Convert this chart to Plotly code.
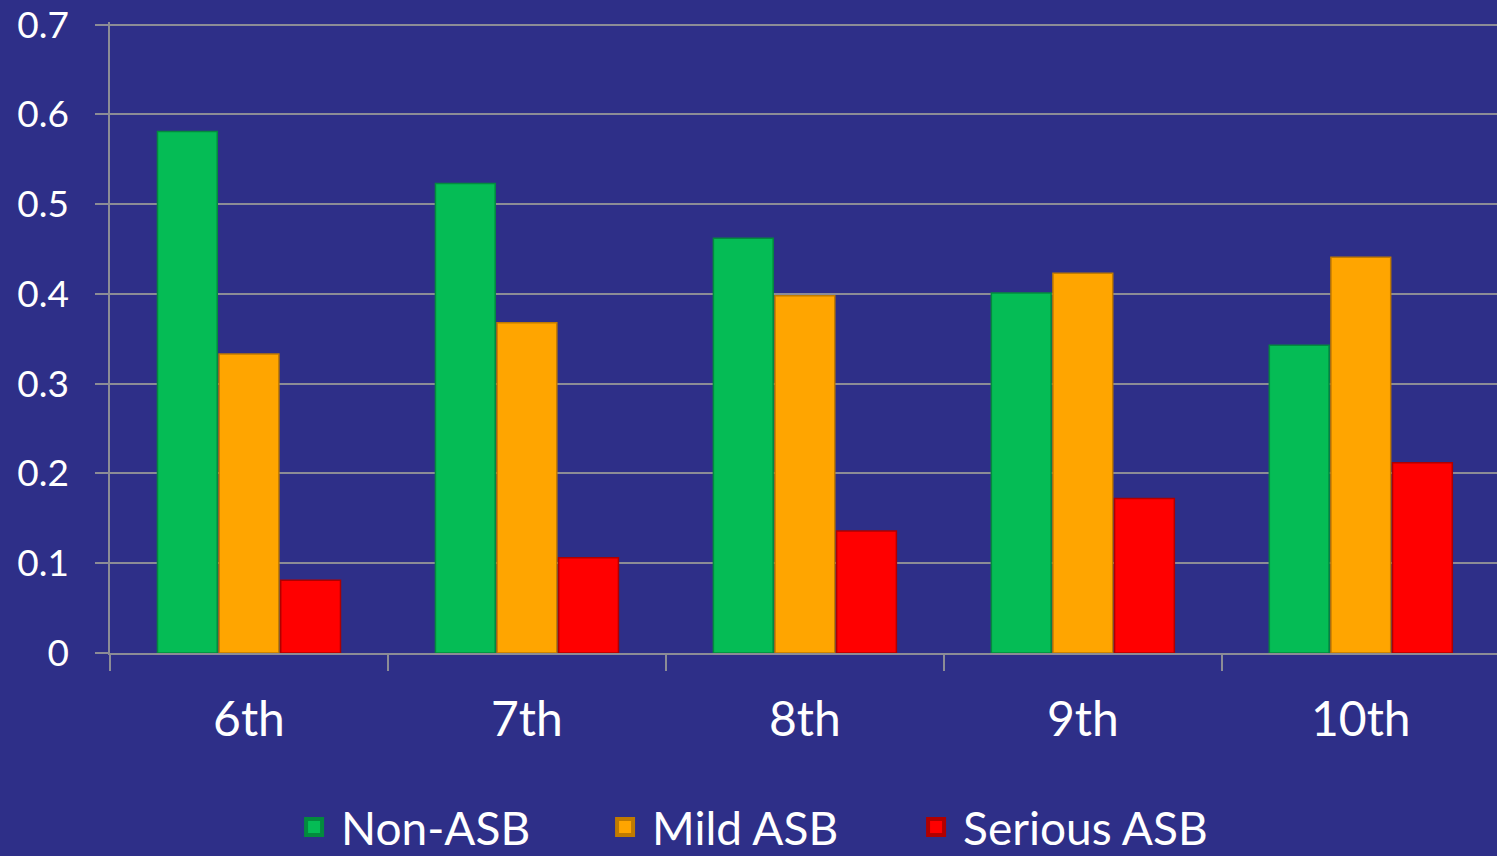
import plotly.graph_objects as go

grades = ["6th", "7th", "8th", "9th", "10th"]
non_asb = [0.581, 0.523, 0.462, 0.401, 0.343]
mild_asb = [0.333, 0.368, 0.398, 0.423, 0.441]
serious_asb = [0.081, 0.106, 0.136, 0.172, 0.212]
y_ticks = [0, 0.1, 0.2, 0.3, 0.4, 0.5, 0.6, 0.7]
y_tick_labels = ["0", "0.1", "0.2", "0.3", "0.4", "0.5", "0.6", "0.7"]

BG = "rgb(46,47,136)"
GRID = "rgb(140,140,150)"
FONT = "Lato, 'Open Sans', sans-serif"

fig = go.Figure()
series = [
    ("Non-ASB", non_asb, "#05BC55", "#038A3E"),
    ("Mild ASB", mild_asb, "#FFA500", "#C07A00"),
    ("Serious ASB", serious_asb, "#FF0000", "#B00000"),
]
for name, vals, col, edge in series:
    fig.add_trace(go.Bar(
        x=grades, y=vals, name=name, showlegend=False,
        marker=dict(color=col, line=dict(color=edge, width=1.5)),
    ))
# legend-only entries with larger square symbols
for name, vals, col, edge in series:
    fig.add_trace(go.Scatter(
        x=[None], y=[None], name=name, mode="markers",
        marker=dict(symbol="square", size=16, color=col,
                    line=dict(color=edge, width=4)),
    ))

fig.update_layout(
    width=1497, height=856,
    paper_bgcolor=BG, plot_bgcolor=BG,
    margin=dict(l=110, r=0, t=22, b=203, autoexpand=False),
    barmode="group", bargap=0.335, bargroupgap=0.03,
    font=dict(family=FONT, color="white", size=38),
    showlegend=True,
    legend=dict(
        orientation="h", x=0.464, xanchor="center",
        y=-0.276, yanchor="middle",
        font=dict(size=46, color="white"),
        bgcolor="rgba(0,0,0,0)", itemwidth=44,
        entrywidth=252,
        traceorder="normal",
    ),
)
fig.update_xaxes(
    range=[-0.5, 4.49],
    showline=True, linecolor=GRID, linewidth=1.5,
    ticks="outside", tickson="boundaries", ticklen=16, tickwidth=1.5, tickcolor=GRID,
    tickfont=dict(size=48, color="white", family=FONT),
    ticklabelstandoff=24,
    showgrid=False,
)
fig.update_yaxes(
    range=[0, 0.703],
    tickvals=y_ticks, ticktext=y_tick_labels,
    showline=True, linecolor=GRID, linewidth=1.5,
    ticks="outside", ticklen=13, tickwidth=1.5, tickcolor=GRID,
    tickfont=dict(size=37, color="white", family=FONT),
    ticklabelstandoff=19, ticklabeloverflow="allow",
    showgrid=True, gridcolor=GRID, gridwidth=1.5,
    zeroline=False,
)

fig.write_html("out.html")
